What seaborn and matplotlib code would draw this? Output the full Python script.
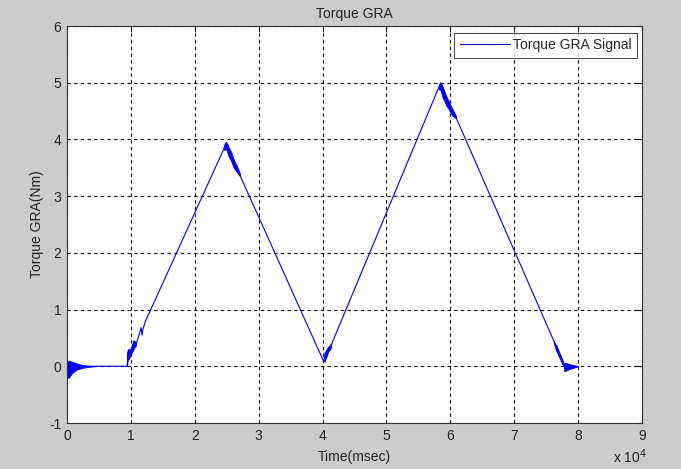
import matplotlib
matplotlib.use("Agg")
import matplotlib.pyplot as plt
import pandas as pd
import seaborn as sns

# Torque GRA signal: corner points of the ramps plus the chatter near the turning points
time_ms = [0, 4000, 9400, 9500, 9550, 9700, 10200, 10500, 10700, 11200, 11600, 11750,
           11900, 12300, 24500, 24700, 24900, 25100, 25200, 25450, 25600, 25900, 26100,
           26400, 26700, 27100, 40200, 40450, 40600, 40900, 41100, 41500, 42000,
           58200, 58400, 58600, 58700, 59000, 59200, 59500, 59700, 60100, 60400, 60800,
           76300, 76600, 76700, 77000, 77300, 77600, 77900]
torque_nm = [0.0, 0.0, 0.0, 0.1, 0.25, 0.18, 0.3, 0.45, 0.35, 0.52, 0.68, 0.55,
             0.66, 0.8, 3.82, 3.9, 3.94, 3.8, 3.9, 3.72, 3.78, 3.58, 3.65, 3.48, 3.5, 3.36,
             0.08, 0.25, 0.14, 0.33, 0.28, 0.41, 0.55,
             4.92, 4.98, 4.85, 4.96, 4.72, 4.78, 4.58, 4.62, 4.48, 4.52, 4.41,
             0.42, 0.3, 0.36, 0.2, 0.18, 0.06, 0.0]

# ringing envelopes at start-up and at shut-down
ring_start_t = [0, 300, 800, 1500, 2500, 3500, 4400]
ring_start_hi = [0.08, 0.1, 0.08, 0.05, 0.02, 0.008, 0.0]
ring_start_lo = [-0.2, -0.2, -0.12, -0.06, -0.025, -0.008, 0.0]
ring_end_t = [77800, 78000, 78600, 79300, 80000]
ring_end_hi = [0.06, 0.06, 0.04, 0.02, 0.0]
ring_end_lo = [-0.08, -0.08, -0.05, -0.025, 0.0]

# chatter bands riding on the ramps
chatter_bands = {
    "rise1": ([9400, 9500, 9900, 10400, 10800],
              [0.2, 0.3, 0.3, 0.45, 0.43],
              [0.0, 0.1, 0.18, 0.3, 0.37]),
    "peak1": ([24600, 24900, 25300, 25700, 26100, 26600, 27100],
              [3.87, 3.96, 3.86, 3.78, 3.64, 3.53, 3.39],
              [3.81, 3.84, 3.7, 3.62, 3.5, 3.42, 3.35]),
    "rise2": ([40300, 40500, 40900, 41300],
              [0.12, 0.28, 0.34, 0.4],
              [0.08, 0.14, 0.26, 0.32]),
    "peak2": ([58200, 58400, 58800, 59300, 59800, 60300, 60900],
              [4.92, 5.01, 4.93, 4.78, 4.66, 4.54, 4.41],
              [4.88, 4.89, 4.74, 4.62, 4.52, 4.42, 4.37]),
    "fall2": ([76200, 76600, 77000, 77400, 77800],
              [0.44, 0.36, 0.26, 0.15, 0.04],
              [0.41, 0.27, 0.17, 0.07, -0.02]),
}

x_ticks = [0, 1, 2, 3, 4, 5, 6, 7, 8, 9]
y_ticks = [-1, 0, 1, 2, 3, 4, 5, 6]

sns.set_style("white")
plt.rcParams["font.family"] = ["Liberation Sans", "DejaVu Sans"]

LINE = "#0000ff"
FS = 10
fig = plt.figure(figsize=(6.81, 4.69), dpi=100, facecolor="#cccccc")
ax = fig.add_axes([67 / 681, 46 / 469, 575 / 681, 397 / 469])
ax.set_facecolor("white")

df = pd.DataFrame({"Time(msec)": time_ms, "Torque": torque_nm})
sns.lineplot(data=df, x="Time(msec)", y="Torque", ax=ax, color=LINE, linewidth=0.8,
             estimator=None, sort=False, label="Torque GRA Signal")
ax.fill_between(ring_start_t, ring_start_lo, ring_start_hi, color=LINE, linewidth=0.6)
ax.fill_between(ring_end_t, ring_end_lo, ring_end_hi, color=LINE, linewidth=0.6)
for t, hi, lo in chatter_bands.values():
    ax.fill_between(t, lo, hi, color=LINE, linewidth=0.6)

ax.set_xlim(0, 90000)
ax.set_ylim(-1, 6)
ax.set_xticks([v * 1e4 for v in x_ticks])
ax.set_xticklabels([str(v) for v in x_ticks])
ax.set_yticks(y_ticks)
ax.set_yticklabels([str(v) for v in y_ticks])

ax.grid(True, color="black", linestyle=(0, (3, 3)), linewidth=0.8)
for s in ax.spines.values():
    s.set_color("#333333")
    s.set_linewidth(0.8)
ax.tick_params(direction="in", length=4, width=0.8, labelsize=FS, colors="#222222",
               top=True, right=True, pad=4)

ax.set_title("Torque GRA", fontsize=FS, color="#222222", pad=6)
ax.set_xlabel("Time(msec)", fontsize=FS, color="#222222", labelpad=5)
ax.set_ylabel("Torque GRA(Nm)", fontsize=FS, color="#222222", labelpad=4)
ax.text(1.008, -0.062, r"x 10$^{4}$", transform=ax.transAxes, ha="right", va="top",
        fontsize=FS, color="#222222")

leg = ax.legend(loc="upper right", bbox_to_anchor=(1 - 5 / 575, 1 - 7 / 397),
                fontsize=FS, frameon=True, fancybox=False, borderaxespad=0,
                borderpad=0.38, handlelength=3.6, handletextpad=0.25)
leg.get_frame().set_edgecolor("#222222")
leg.get_frame().set_linewidth(0.8)

fig.savefig("out.png", dpi=100, facecolor=fig.get_facecolor())
